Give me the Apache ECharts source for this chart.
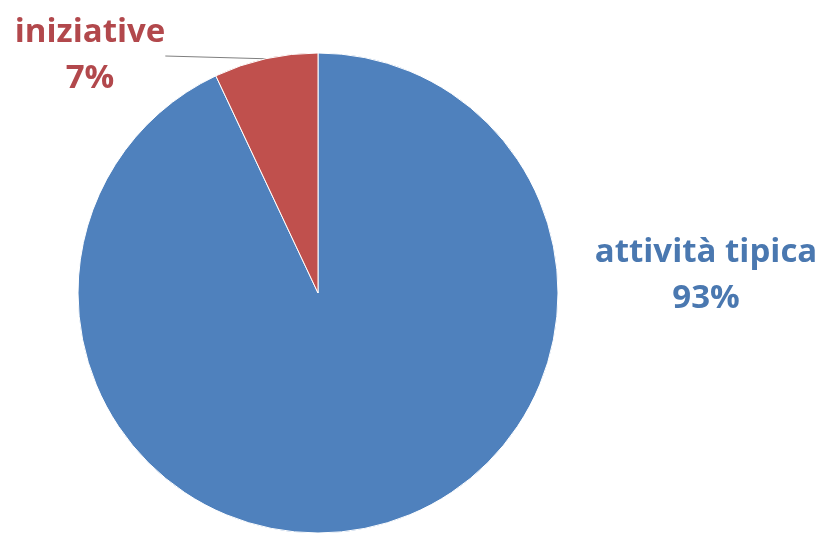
<!DOCTYPE html>
<html><head><meta charset="utf-8">
<script src="https://cdn.jsdelivr.net/npm/echarts@6/dist/echarts.min.js"></script>
<style>html,body{margin:0;padding:0;background:#fff}#c{width:821px;height:534px}</style>
</head><body><div id="c"></div>
<script>
const categories = ['attività tipica', 'iniziative'];
const values = [93, 7];
const colors = ['#4F81BD', '#C0504D'];
const labelColors = ['#4A78B0', '#B2484C'];

const chart = echarts.init(document.getElementById('c'));
chart.setOption({
  animation: false,
  series: [{
    type: 'pie',
    center: [318, 293],
    radius: 240,
    startAngle: 90,
    clockwise: true,
    itemStyle: { borderColor: '#fff', borderWidth: 1 },
    label: {
      show: true,
      formatter: '{b}\n{d}%',
      fontFamily: 'Open Sans',
      fontWeight: 'bold',
      fontSize: 33,
      lineHeight: 46,
      align: 'center'
    },
    labelLine: { show: false },
    labelLayout: function (p) {
      if (p.dataIndex === 0) {
        return { x: 706, y: 276, align: 'center', verticalAlign: 'middle' };
      }
      return { x: 90, y: 56, align: 'center', verticalAlign: 'middle' };
    },
    data: categories.map((c, i) => ({
      name: c,
      value: values[i],
      itemStyle: { color: colors[i] },
      label: { color: labelColors[i] },
      labelLine: i === 1 ? { show: true, length: 0, length2: 0, lineStyle: { color: '#7f7f7f', width: 1 } } : { show: false }
    }))
  }]
});
</script></body></html>
